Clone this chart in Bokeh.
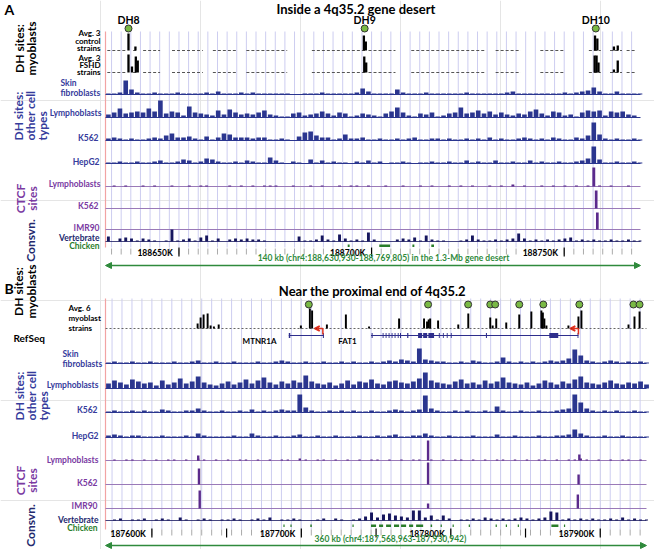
import numpy as np
from bokeh.plotting import figure
from bokeh.models import Range1d, Label, Arrow, VeeHead, NormalHead
from bokeh.embed import file_html
from bokeh.resources import INLINE

# ---------------- data (kb on chr4) ----------------
A_START_KB, A_END_KB = 188630.930, 188769.805
B_START_KB, B_END_KB = 187568.963, 187930.942
A_BIN_KB = 1.5
B_BIN_KB = 4.0

A_tick_kb = [188650, 188700, 188750]
A_tick_labels = ["188650K", "188700K", "188750K"]
B_tick_kb = [187600, 187700, 187800, 187900]
B_tick_labels = ["187600K", "187700K", "187800K", "187900K"]

A_dh_names = ["DH8", "DH9", "DH10"]
A_dh_kb = [188636.9, 188698.2, 188758.2]

# myoblast coverage (kb start, kb end) in panel A
A_cov_start = [188631.4, 188638.1, 188640.7, 188648.2, 188658.8, 188667.5, 188684.5, 188699.2,
               188710.3, 188732.2, 188743.8, 188756.4, 188761.9, 188766.2]
A_cov_end = [188636.1, 188639.2, 188645.1, 188656.2, 188665.2, 188678.1, 188698.5, 188706.2,
             188729.4, 188738.7, 188750.0, 188759.5, 188765.0, 188768.8]

A_ctrl_kb = [188636.9, 188638.7, 188698.0, 188698.5, 188758.0, 188758.6, 188762.9, 188763.9]
A_ctrl_val = [17, 4, 15, 9, 15, 12, 4, 5]
A_fshd_kb = [188636.9, 188637.8, 188638.8, 188639.3, 188698.1, 188698.6, 188757.9, 188758.4, 188758.9, 188762.9, 188763.9]
A_fshd_val = [18, 6, 16, 12, 16, 10, 17, 17, 10, 3, 12]

A_skin = [1,1,2,14,5,2,1,1,2,1, 1,1,2,1,1,1,1,2,1,3, 1,1,1,2,1,2,1,1,1,1,
          1,1,0,0,1,1,1,2,1,1, 1,1,1,2,6,3,1,1,1,1, 5,2,1,1,1,2,1,1,1,1,
          1,1,2,1,1,1,1,1,1,2, 3,1,1,1,1,1,1,1,1,2, 1,2,3,4,7,3,1,1,3,1, 1,1,1]
A_lympho = [3,5,9,4,5,6,5,9,6,17, 4,6,5,2,11,5,4,3,2,7, 3,8,5,3,4,3,5,7,3,2,
            1,1,4,5,2,3,4,6,4,2, 5,4,1,2,4,3,2,1,4,6, 10,5,2,1,4,3,5,1,2,4,
            5,10,4,5,7,4,6,3,5,3, 2,4,3,6,8,4,2,6,5,2, 3,1,5,7,6,7,2,6,5,6, 3,2,0]
A_k562 = [2,3,2,1,2,1,1,2,3,2, 5,7,3,3,4,2,1,4,1,3, 7,6,3,3,3,2,3,3,1,1,
          2,1,0,4,8,9,5,3,3,1, 2,6,2,2,3,1,1,2,1,1, 2,1,2,3,1,1,2,2,1,2,
          1,1,2,1,2,1,3,1,2,1, 1,2,3,2,1,2,1,3,2,1, 1,3,2,5,18,6,2,1,2,1, 1,2,1]
A_hepg2 = [1,1,2,1,1,2,1,1,2,3, 1,1,2,4,3,1,2,5,4,2, 1,1,2,1,3,2,1,1,6,3,
           1,0,2,1,0,4,1,3,1,2, 1,1,0,2,1,3,1,2,0,1, 1,2,1,0,1,1,2,1,1,2,
           1,1,3,1,2,1,1,3,1,1, 2,1,1,3,1,2,1,1,2,1, 1,2,3,5,17,4,1,1,2,1, 1,2,1]
A_ctcf_lympho = [0,1,0,1,0,0,1,0,1,0, 0,1,0,0,1,0,1,1,0,0, 0,1,0,1,0,1,0,1,1,1,
                 0,0,1,0,0,1,0,1,0,0, 1,0,1,1,0,1,0,0,1,0, 0,1,0,0,1,0,1,0,0,1,
                 0,1,0,1,0,0,1,0,1,0, 2,0,1,0,0,1,0,1,0,1, 0,1,0,1,19,1,0,1,0,0, 1,0,0]
A_ctcf_k562_kb, A_ctcf_k562_val = [188758.3], [18]
A_imr90_kb, A_imr90_val = [188758.6], [17]
A_vert = [5,0,3,4,3,1,3,2,1,0, 1,12,1,2,3,1,4,6,1,3, 0,2,3,2,3,2,2,1,0,0,
          0,0,0,5,1,1,2,6,2,1, 7,3,1,2,1,9,2,0,0,0, 2,3,2,4,1,6,2,1,1,0,
          0,1,2,6,2,1,1,2,1,2, 3,8,3,1,2,1,2,1,2,3, 4,1,2,1,2,1,1,2,1,1, 2,1,1]
A_chick_start = [188693.8, 188702.0, 188710.6, 188715.5]
A_chick_end = [188694.3, 188704.8, 188711.1, 188716.2]

B_dot_kb = [187705.0, 187784.8, 187811.6, 187826.4, 187829.7, 187845.8, 187861.9, 187886.0, 187922.2, 187926.3]
B_myo_kb = [187630.6, 187632.6, 187634.6, 187637.3, 187639.3, 187641.5, 187644.7, 187699.7, 187705.7, 187707.2,
            187717.1, 187729.8, 187745.3, 187765.4, 187782.1, 187784.1, 187785.2, 187786.2, 187791.5, 187805.0,
            187811.7, 187826.4, 187828.0, 187830.4, 187837.1, 187845.8, 187853.9, 187860.6, 187861.6, 187862.6,
            187864.0, 187878.7, 187885.4, 187887.4, 187918.9, 187922.9, 187926.3]
B_myo_val = [5, 11, 14, 15, 3, 2, 4, 3, 20, 18,
             4, 14, 2, 10, 10, 7, 9, 10, 8, 4,
             15, 11, 3, 10, 6, 14, 17, 18, 16, 10,
             3, 3, 12, 18, 4, 12, 17]

B_genes = ["MTNR1A", "FAT1"]
B_gene_start = [187691.6, 187746.6]
B_gene_end = [187715.1, 187885.4]
B_gene_tss = [187714.4, 187885.4]
B_exon_start = [187691.6, 187714.4, 187747.0, 187754.4, 187756.4, 187758.4, 187760.4, 187762.4, 187764.5,
                187766.0, 187770.8, 187778.1, 187781.5, 187785.0, 187792.0, 187794.7, 187797.3, 187800.0,
                187823.5, 187865.9, 187884.8]
B_exon_end = [187692.6, 187715.1, 187747.7, 187755.0, 187757.0, 187759.0, 187761.0, 187763.0, 187765.1,
              187766.7, 187771.6, 187780.8, 187784.2, 187788.8, 187792.6, 187795.3, 187797.9, 187800.6,
              187824.2, 187871.9, 187885.4]

B_skin = [1,2,1,1,2,1,1,2,1,1, 1,2,1,1,2,3,1,1,2,1, 1,2,1,1,1,2,1,1,2,3,
          2,1,1,2,1,1,2,1,1,2, 1,2,1,1,2,1,2,3,2,4, 3,2,15,4,3,2,2,1,1,2,
          1,3,2,1,1,2,6,2,1,2, 1,2,1,2,3,2,3,5,14,8, 3,2,1,2,3,2,1,2,1,2, 1]
B_lympho = [5,8,6,4,9,7,5,6,3,8, 4,6,10,5,7,12,6,4,3,5, 7,4,6,9,5,8,11,6,4,7,
            5,8,6,13,7,5,4,6,3,5, 8,4,7,6,9,5,4,7,8,6, 5,7,10,16,8,6,5,4,7,9,
            5,6,4,8,5,7,11,6,5,4, 6,3,5,8,6,4,7,5,9,12, 6,5,4,6,8,5,4,6,5,7, 4]
B_k562 = [1,2,1,1,2,1,2,1,1,3, 2,1,1,2,2,4,2,1,1,2, 1,1,2,1,3,1,2,1,2,3,
          2,2,18,5,2,1,1,2,1,2, 1,2,1,1,2,1,1,2,3,2, 1,2,3,17,4,2,1,1,2,1,
          2,1,1,2,1,6,2,1,1,2, 1,1,2,1,1,2,3,4,18,10, 4,2,1,2,1,2,1,1,2,1, 1]
B_hepg2 = [2,3,2,1,2,2,1,1,1,2, 1,1,1,2,1,4,2,1,1,1, 1,2,1,1,4,2,1,1,2,1,
           1,2,3,1,1,2,1,1,2,1, 1,1,2,1,1,2,1,2,3,1, 1,2,2,4,2,1,1,2,1,1,
           1,2,1,1,1,3,1,1,2,1, 1,1,2,1,1,2,2,3,8,4, 2,1,1,2,1,1,2,1,1,1, 1]
B_ctcf_lympho = [0,1,0,1,1,0,1,0,1,0, 1,1,0,1,0,2,1,0,1,0, 1,0,1,1,0,1,0,1,0,1,
                 1,0,2,1,0,1,1,0,1,0, 1,0,1,0,1,1,0,1,0,1, 0,1,1,0,1,0,1,0,1,1,
                 0,1,0,1,0,1,1,0,1,0, 1,0,1,1,0,1,0,1,1,2, 1,0,1,0,1,0,1,1,0,1, 0]
B_ctcf_lympho_kb, B_ctcf_lympho_val = [187631.0, 187784.8, 187886.0], [5, 20, 6]
B_ctcf_k562_kb, B_ctcf_k562_val = [187631.5, 187784.8, 187885.5], [16, 22, 10]
B_imr90_kb, B_imr90_val = [187632.0, 187784.8, 187885.0], [18, 5, 14]
B_vert = [0,1,2,0,1,1,2,0,1,2, 1,0,3,1,0,1,2,1,0,1, 1,2,1,0,1,2,1,3,0,1,
          1,2,1,0,0,1,2,0,2,1, 0,1,2,4,8,3,6,7,5,4, 3,10,10,3,5,1,5,2,0,1,
          1,2,1,3,2,1,2,1,2,3, 2,1,2,3,9,8,1,2,1,2, 1,2,1,1,2,1,3,1,2,1, 1]
B_chick_start = [187688.0, 187692.7, 187706.0, 187734.2, 187746.6, 187752.0, 187756.7, 187762.0, 187766.7,
                 187772.1, 187776.8, 187786.5, 187793.2, 187801.2, 187812.0, 187830.0, 187836.8, 187844.8,
                 187867.3, 187875.7]
B_chick_end = [187688.8, 187693.5, 187707.0, 187735.0, 187750.0, 187754.7, 187760.0, 187765.4, 187770.1,
               187774.8, 187781.5, 187787.5, 187794.0, 187802.0, 187812.8, 187830.8, 187837.6, 187845.6,
               187872.0, 187876.5]

# ---------------- styles ----------------
FONT = "Lato"
BLACK = "#000000"
BLUE = "#2b368f"
BLUE_TXT = "#363c9c"
PURPLE = "#5b2a8c"
PURPLE_TXT = "#7a3aa2"
PURPLE_BASE = "#9a7ab8"
NAVY = "#16165e"
GREEN = "#2a7d2a"
ARROW_GREEN = "#2f8a3c"
GRID = "#cdcdf0"

W, H = 654, 549
p = figure(width=W, height=H, x_range=Range1d(0, W), y_range=Range1d(H, 0),
           output_backend="svg", toolbar_location=None, min_border=0,
           x_axis_location=None, y_axis_location=None)
p.outline_line_color = None
p.background_fill_color = "white"
p.border_fill_color = "white"

# pixel placement of the two genomic windows
A_PX0, A_PX1 = 105, 640
B_PX0, B_PX1 = 105, 646
sA = (A_PX1 - A_PX0) / (A_END_KB - A_START_KB)
sB = (B_PX1 - B_PX0) / (B_END_KB - B_START_KB)
p.extra_x_ranges = {
    "A": Range1d(A_START_KB - A_PX0 / sA, A_START_KB + (W - A_PX0) / sA),
    "B": Range1d(B_START_KB - B_PX0 / sB, B_START_KB + (W - B_PX0) / sB),
}


def lab(text, x, y, size, color, align="right", angle=0.0, baseline="middle", style="bold"):
    p.add_layout(Label(x=x, y=y, text=text, text_font=FONT, text_font_size=size,
                       text_color=color, text_align=align, text_baseline=baseline,
                       angle=angle, text_font_style=style))


def guides(rng, start, end, step, y0, y1):
    g = np.arange(np.ceil(start / step) * step, end, step)
    p.segment(x0=g, y0=y0, x1=g, y1=y1, line_color=GRID, line_width=1, x_range_name=rng)
    p.segment(x0=[start], y0=y0, x1=[start], y1=y1, line_color="#f2a3a3", line_width=1.2, x_range_name=rng)


def binned(rng, start, binkb, vals, base, color, frac=0.8, scale=1.0):
    v = np.array(vals, dtype=float)
    xs = start + (np.arange(len(v)) + 0.5) * binkb
    m = v > 0
    p.vbar(x=xs[m], width=binkb * frac, bottom=base, top=base - v[m] * scale,
           fill_color=color, line_color=None, x_range_name=rng)


def peaks(rng, kb, vals, base, color, width):
    p.vbar(x=kb, width=width, bottom=base, top=[base - v for v in vals],
           fill_color=color, line_color=None, x_range_name=rng)


def baseline(rng, start, end, y, color, width=1.0):
    p.segment(x0=[start], y0=y, x1=[end], y1=y, line_color=color, line_width=width, x_range_name=rng)


# =============== PANEL A =================
guides("A", A_START_KB, A_END_KB, 2.5, 31, 247)

lab("A", 4, 9, "14px", BLACK, align="left")
lab("Inside a  4q35.2 gene desert", 357, 8, "13px", BLACK, align="center")

p.text(x=A_dh_kb, y=[19] * 3, text=A_dh_names, x_range_name="A", text_font_size="10.5px",
       text_font_style="bold", text_align="center", text_baseline="middle", text_color=BLACK,
       text_font={"value": FONT})
p.scatter(x=A_dh_kb, y=[28] * 3, size=7, fill_color="#79b944", line_color="#333333", line_width=1, x_range_name="A")

# myoblast tracks
for base in (50, 72):
    p.segment(x0=A_cov_start, y0=base, x1=A_cov_end, y1=base, line_color="#555555",
              line_width=1, line_dash="3 2", x_range_name="A")
peaks("A", A_ctrl_kb, A_ctrl_val, 50, BLACK, 0.6)
peaks("A", A_fshd_kb, A_fshd_val, 72, BLACK, 0.6)

# DH other cells
for vals, base in ((A_skin, 94), (A_lympho, 117), (A_k562, 140), (A_hepg2, 163)):
    baseline("A", A_START_KB, A_END_KB, base, BLUE, 1)
    binned("A", A_START_KB, A_BIN_KB, vals, base, BLUE)

# CTCF
for base in (186, 208, 229):
    baseline("A", A_START_KB, A_END_KB, base, PURPLE_BASE, 1)
binned("A", A_START_KB, A_BIN_KB, A_ctcf_lympho, 186, PURPLE, frac=0.5)
peaks("A", A_ctcf_k562_kb, A_ctcf_k562_val, 208, PURPLE, 0.7)
peaks("A", A_imr90_kb, A_imr90_val, 229, PURPLE, 0.7)

# conservation
baseline("A", A_START_KB, A_END_KB, 241, NAVY, 0.8)
binned("A", A_START_KB, A_BIN_KB, A_vert, 241, NAVY, frac=0.5)
p.quad(left=A_chick_start, right=A_chick_end, top=244, bottom=246.5, fill_color=GREEN,
       line_color=None, x_range_name="A")

# ruler
a_minor = np.arange(np.ceil(A_START_KB / 2.5) * 2.5, A_END_KB, 2.5)
p.segment(x0=a_minor, y0=248, x1=a_minor, y1=254, line_color="#aaaaaa", line_width=1, x_range_name="A")
p.segment(x0=A_tick_kb, y0=247, x1=A_tick_kb, y1=256, line_color=BLACK, line_width=1.2, x_range_name="A")
p.text(x=[k - 1.6 for k in A_tick_kb], y=[252] * 3, text=A_tick_labels, x_range_name="A",
       text_font_size="8.5px", text_font_style="bold", text_align="right", text_baseline="middle",
       text_color=BLACK, text_font={"value": FONT})

p.add_layout(Arrow(start=NormalHead(size=6, fill_color=ARROW_GREEN, line_color=ARROW_GREEN),
                   end=NormalHead(size=6, fill_color=ARROW_GREEN, line_color=ARROW_GREEN),
                   x_start=A_START_KB, y_start=265, x_end=A_END_KB, y_end=265,
                   line_color=ARROW_GREEN, line_width=1.5, x_range_name="A"))
lab("140 kb (chr4:188,630,930-188,769,805) in the 1.3-Mb gene desert", 383, 257, "8.5px", ARROW_GREEN, align="center")

# labels A
lab("DH sites:", 19, 48, "12px", BLACK, align="center", angle=np.pi / 2)
lab("myoblasts", 31, 48, "12px", BLACK, align="center", angle=np.pi / 2)
lab("Avg. 3", 100, 32, "8px", BLACK)
lab("control", 100, 40, "8px", BLACK)
lab("strains", 100, 47, "8px", BLACK)
lab("Avg. 3", 100, 57, "8px", BLACK)
lab("FSHD", 100, 64, "8px", BLACK)
lab("strains", 100, 71, "8px", BLACK)
lab("Skin", 60, 82, "8.5px", BLUE_TXT, align="left")
lab("fibroblasts", 60, 92, "8.5px", BLUE_TXT, align="left")
lab("Lymphoblasts", 101, 112, "8.5px", BLUE_TXT)
lab("K562", 98, 137, "8.5px", BLUE_TXT)
lab("HepG2", 99, 161, "8.5px", BLUE_TXT)
lab("DH sites:", 18, 140, "12px", BLUE_TXT, align="left", angle=np.pi / 2)
lab("other cell", 30, 140, "12px", BLUE_TXT, align="left", angle=np.pi / 2)
lab("types", 42, 140, "12px", BLUE_TXT, align="left", angle=np.pi / 2)
lab("Lymphoblasts", 100, 183, "8.5px", PURPLE_TXT)
lab("K562", 98, 205, "8.5px", PURPLE_TXT)
lab("IMR90", 99, 227, "8.5px", PURPLE_TXT)
lab("CTCF", 20, 198, "12px", PURPLE_TXT, align="center", angle=np.pi / 2)
lab("sites", 32, 198, "12px", PURPLE_TXT, align="center", angle=np.pi / 2)
lab("Vertebrate", 99, 237, "8.5px", "#23296e")
lab("Chicken", 99, 245, "8.5px", GREEN)
lab("Consvn.", 30, 240, "12px", "#23296e", align="center", angle=np.pi / 2)

# =============== PANEL B =================
guides("B", B_START_KB, B_END_KB, 20.0 / 3.0, 298, 529)

lab("B", 4, 288, "14px", BLACK, align="left")
lab("Near the proximal end of 4q35.2", 372, 290, "13px", BLACK, align="center")

p.scatter(x=B_dot_kb, y=[304] * len(B_dot_kb), size=7, fill_color="#79b944", line_color="#333333",
          line_width=1, x_range_name="B")
p.segment(x0=[B_START_KB], y0=328, x1=[B_END_KB], y1=328, line_color="#666666", line_width=1,
          line_dash="2 2", x_range_name="B")
peaks("B", B_myo_kb, B_myo_val, 328, BLACK, 1.3)

# RefSeq genes
p.segment(x0=B_gene_start, y0=335, x1=B_gene_end, y1=335, line_color="#2e2e8c", line_width=1, x_range_name="B")
p.quad(left=B_exon_start, right=B_exon_end, top=332.5, bottom=337.5, fill_color="#2e2e8c",
       line_color=None, x_range_name="B")
for tss in B_gene_tss:
    p.segment(x0=[tss], y0=334, x1=[tss], y1=328, line_color="#e0301e", line_width=1.5, x_range_name="B")
    p.add_layout(Arrow(end=VeeHead(size=5, line_color="#e0301e", line_width=1.5),
                       x_start=tss, y_start=328, x_end=tss - 5.5, y_end=328,
                       line_color="#e0301e", line_width=1.5, x_range_name="B"))
lab("MTNR1A", 259, 340, "8px", BLACK, align="center")
lab("FAT1", 347, 340, "8px", BLACK, align="center")

for vals, base in ((B_skin, 363), (B_lympho, 388), (B_k562, 412), (B_hepg2, 437)):
    baseline("B", B_START_KB, B_END_KB, base, BLUE, 1)
    binned("B", B_START_KB, B_BIN_KB, vals, base, BLUE)

for base in (460, 484, 508):
    baseline("B", B_START_KB, B_END_KB, base, PURPLE_BASE, 1)
binned("B", B_START_KB, B_BIN_KB, B_ctcf_lympho, 460, PURPLE, frac=0.4)
peaks("B", B_ctcf_lympho_kb, B_ctcf_lympho_val, 460, PURPLE, 1.6)
peaks("B", B_ctcf_k562_kb, B_ctcf_k562_val, 484, PURPLE, 1.6)
peaks("B", B_imr90_kb, B_imr90_val, 508, PURPLE, 1.6)

baseline("B", B_START_KB, B_END_KB, 520, NAVY, 0.8)
binned("B", B_START_KB, B_BIN_KB, B_vert, 520, NAVY, frac=0.5)
p.quad(left=B_chick_start, right=B_chick_end, top=524, bottom=526.5, fill_color=GREEN,
       line_color=None, x_range_name="B")

b_minor = np.arange(np.ceil(B_START_KB / (20.0 / 3.0)) * (20.0 / 3.0), B_END_KB, 20.0 / 3.0)
p.segment(x0=b_minor, y0=529, x1=b_minor, y1=535, line_color="#aaaaaa", line_width=1, x_range_name="B")
b_half = np.arange(187600, B_END_KB, 50)
p.segment(x0=b_half, y0=528, x1=b_half, y1=537, line_color=BLACK, line_width=1.2, x_range_name="B")
p.text(x=[k - 4 for k in B_tick_kb], y=[533] * 4, text=B_tick_labels, x_range_name="B",
       text_font_size="8.5px", text_font_style="bold", text_align="right", text_baseline="middle",
       text_color=BLACK, text_font={"value": FONT})

p.add_layout(Arrow(start=NormalHead(size=6, fill_color=ARROW_GREEN, line_color=ARROW_GREEN),
                   end=NormalHead(size=6, fill_color=ARROW_GREEN, line_color=ARROW_GREEN),
                   x_start=B_START_KB, y_start=545, x_end=B_END_KB, y_end=545,
                   line_color=ARROW_GREEN, line_width=1.5, x_range_name="B"))
lab("360 kb (chr4:187,568,963-187,930,942)", 390, 538, "8.5px", ARROW_GREEN, align="center")

# labels B
lab("DH sites:", 18, 291, "12px", BLACK, align="center", angle=np.pi / 2)
lab("myoblasts", 31, 291, "12px", BLACK, align="center", angle=np.pi / 2)
lab("Avg. 6", 68, 307, "8px", BLACK, align="left")
lab("myoblast", 68, 317, "8px", BLACK, align="left")
lab("strains", 68, 327, "8px", BLACK, align="left")
lab("RefSeq", 13, 337, "10px", BLACK, align="left")
lab("Skin", 62, 353, "8.5px", BLUE_TXT, align="left")
lab("fibroblasts", 62, 363, "8.5px", BLUE_TXT, align="left")
lab("Lymphoblasts", 98, 384, "8.5px", BLUE_TXT)
lab("K562", 97, 409, "8.5px", BLUE_TXT)
lab("HepG2", 98, 435, "8.5px", BLUE_TXT)
lab("DH sites:", 19, 420, "12px", BLUE_TXT, align="left", angle=np.pi / 2)
lab("other cell", 31, 420, "12px", BLUE_TXT, align="left", angle=np.pi / 2)
lab("types", 43, 420, "12px", BLUE_TXT, align="left", angle=np.pi / 2)
lab("Lymphoblasts", 98, 459, "8.5px", PURPLE_TXT)
lab("K562", 97, 482, "8.5px", PURPLE_TXT)
lab("IMR90", 97, 505, "8.5px", PURPLE_TXT)
lab("CTCF", 20, 480, "12px", PURPLE_TXT, align="center", angle=np.pi / 2)
lab("sites", 32, 480, "12px", PURPLE_TXT, align="center", angle=np.pi / 2)
lab("Vertebrate", 98, 519, "8.5px", "#23296e")
lab("Chicken", 97, 527, "8.5px", GREEN)
lab("Consvn.", 30, 525, "12px", "#23296e", align="center", angle=np.pi / 2)

open("out.html", "w").write(file_html(p, INLINE))
